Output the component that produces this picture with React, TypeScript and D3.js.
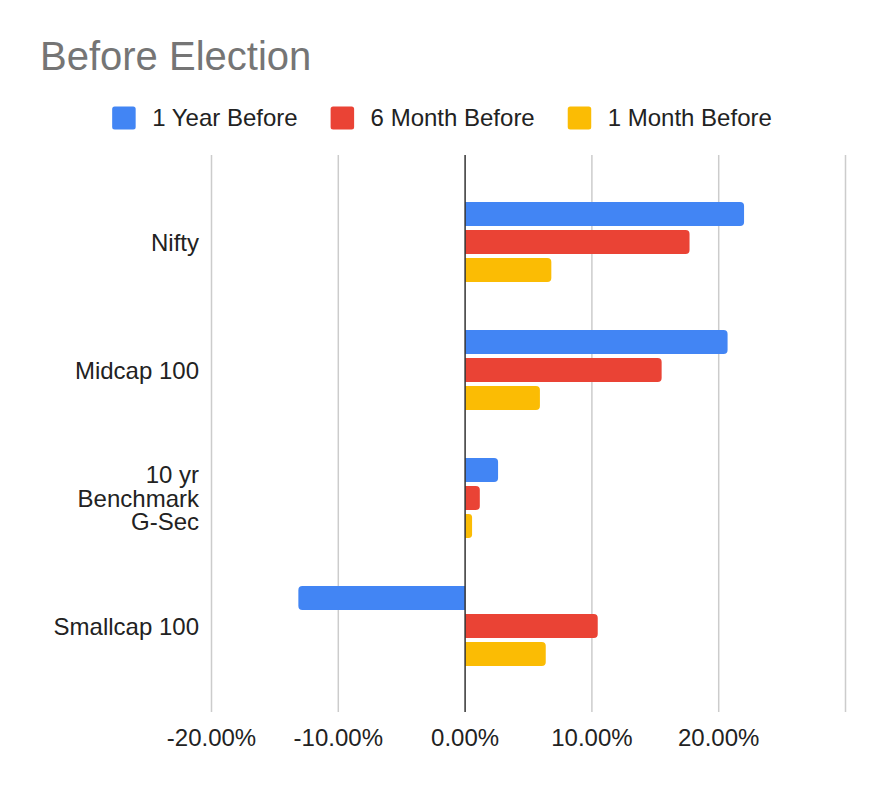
import React, { useEffect, useRef } from 'react';
import * as d3 from 'd3';

// chart values
const categories = ['Nifty', 'Midcap 100', '10 yr\nBenchmark\nG-Sec', 'Smallcap 100'];
const seriesNames = ['1 Year Before', '6 Month Before', '1 Month Before'];
const seriesColors = ['#4285F4', '#EA4335', '#FBBC04'];
const oneYearBefore = [0.22, 0.207, 0.026, -0.1315];
const sixMonthBefore = [0.177, 0.155, 0.0116, 0.1046];
const oneMonthBefore = [0.068, 0.059, 0.0055, 0.0636];
const xTicks = [-0.2, -0.1, 0, 0.1, 0.2, 0.3];
const xLabelTicks = [-0.2, -0.1, 0, 0.1, 0.2];

const W = 884;
const H = 788;
const FONT = '"Liberation Sans", Arial, sans-serif';

// bar with rounded corners only at the value end
function barPath(x0: number, x1: number, y: number, h: number, r: number) {
  const p = d3.path();
  const dir = x1 >= x0 ? 1 : -1;
  const rr = Math.min(r, Math.abs(x1 - x0) / 2);
  p.moveTo(x0, y);
  p.lineTo(x1 - dir * rr, y);
  p.arcTo(x1, y, x1, y + rr, rr);
  p.lineTo(x1, y + h - rr);
  p.arcTo(x1, y + h, x1 - dir * rr, y + h, rr);
  p.lineTo(x0, y + h);
  p.closePath();
  return p.toString();
}

export default function App() {
  const ref = useRef<SVGSVGElement>(null);

  useEffect(() => {
    const svg = d3.select(ref.current);
    svg.selectAll('*').remove();

    const series = [oneYearBefore, sixMonthBefore, oneMonthBefore];
    const plotTop = 155;
    const plotBottom = 712;

    const x = d3.scaleLinear().domain([-0.2, 0.3]).range([211.5, 845.5]);
    const y = d3
      .scaleBand<string>()
      .domain(categories)
      .range([178, 690])
      .paddingInner(0.375)
      .paddingOuter(0.1875);
    const ySub = d3
      .scaleBand<number>()
      .domain([0, 1, 2])
      .range([0, y.bandwidth()])
      .paddingInner(4 / 28);

    svg.append('rect').attr('width', W).attr('height', H).attr('fill', '#fff');

    // title
    svg
      .append('text')
      .attr('x', 40)
      .attr('y', 70)
      .attr('font-family', FONT)
      .attr('font-size', 40)
      .attr('fill', '#757575')
      .text('Before Election');

    // legend
    const legend = svg.append('g');
    let cx = 0;
    seriesNames.forEach((name, i) => {
      const g = legend.append('g').attr('transform', `translate(${cx},0)`);
      g.append('rect')
        .attr('x', 0)
        .attr('y', 106.5)
        .attr('width', 23.5)
        .attr('height', 23)
        .attr('rx', 2.5)
        .attr('fill', seriesColors[i]);
      const t = g
        .append('text')
        .attr('x', 40)
        .attr('y', 126)
        .attr('font-family', FONT)
        .attr('font-size', 24)
        .attr('fill', '#222')
        .text(name);
      const tw = (t.node() as SVGTextElement).getComputedTextLength();
      cx += 40 + tw + (i < seriesNames.length - 1 ? 33 : 0);
    });
    legend.attr('transform', `translate(${W / 2 - cx / 2},0)`);

    // gridlines
    svg
      .append('g')
      .selectAll('line')
      .data(xTicks.filter((d) => d !== 0))
      .join('line')
      .attr('x1', (d) => x(d))
      .attr('x2', (d) => x(d))
      .attr('y1', plotTop)
      .attr('y2', plotBottom)
      .attr('stroke', '#cccccc')
      .attr('stroke-width', 1.5);

    // bars
    categories.forEach((c, ci) => {
      series.forEach((vals, si) => {
        const by = (y(c) as number) + (ySub(si) as number);
        svg
          .append('path')
          .attr('d', barPath(x(0), x(vals[ci]), by, ySub.bandwidth(), 4))
          .attr('fill', seriesColors[si]);
      });
    });

    // zero baseline
    svg
      .append('line')
      .attr('x1', x(0))
      .attr('x2', x(0))
      .attr('y1', plotTop)
      .attr('y2', plotBottom)
      .attr('stroke', '#333')
      .attr('stroke-width', 1.5);

    // x tick labels
    const pct = d3.format('.2%');
    svg
      .append('g')
      .selectAll('text')
      .data(xLabelTicks)
      .join('text')
      .attr('x', (d) => x(d))
      .attr('y', 746)
      .attr('text-anchor', 'middle')
      .attr('font-family', FONT)
      .attr('font-size', 24)
      .attr('fill', '#222')
      .text((d) => pct(d).replace('\u2212', '-'));

    // category labels
    const lineH = 23.5;
    categories.forEach((c) => {
      const lines = c.split('\n');
      const mid = (y(c) as number) + y.bandwidth() / 2;
      const t = svg
        .append('text')
        .attr('x', 199)
        .attr('y', mid + 8.5 - ((lines.length - 1) * lineH) / 2)
        .attr('text-anchor', 'end')
        .attr('font-family', FONT)
        .attr('font-size', 24)
        .attr('fill', '#222');
      lines.forEach((l, li) => {
        t.append('tspan')
          .attr('x', 199)
          .attr('dy', li === 0 ? 0 : lineH)
          .text(l);
      });
    });
  }, []);

  return (
    <div style={{ margin: -8 }}>
      <svg ref={ref} width={W} height={H} style={{ display: 'block' }} />
    </div>
  );
}
